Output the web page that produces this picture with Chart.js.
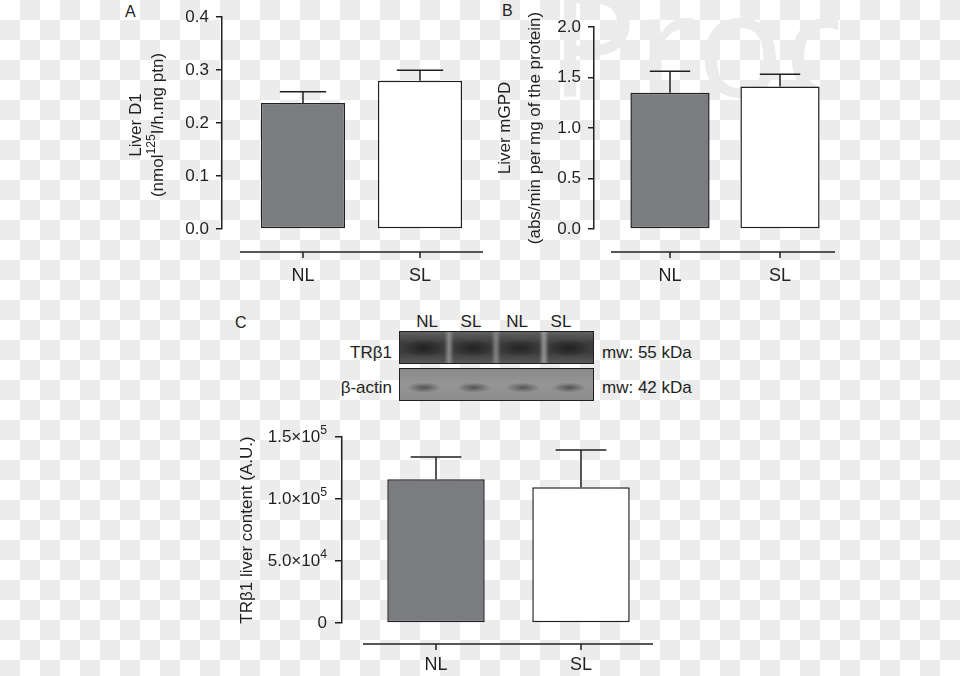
<!DOCTYPE html>
<html>
<head>
<meta charset="utf-8">
<script src="https://cdn.jsdelivr.net/npm/chart.js@4.4.0/dist/chart.umd.min.js"></script>
<style>
  html, body { margin: 0; padding: 0; }
  body {
    width: 960px; height: 676px; position: relative; overflow: hidden;
    background-color: #fff;
    background-image: conic-gradient(#ececec 0 25%, #fff 0 50%, #ececec 0 75%, #fff 0);
    background-size: 40px 40px;
    font-family: "Liberation Sans", Arial, sans-serif;
    color: #231f20;
  }
  canvas { position: absolute; }
  .t { position: absolute; white-space: nowrap; line-height: 1; font-size: 17px; }
  .mid { transform: translate(-50%, -50%); }
  .vmid { transform: translateY(-50%); }
  .panel { font-size: 16px; }
  #mark { position: absolute; left: 490px; top: 0; width: 348px; height: 130px; overflow: hidden; }
  #mark span { position: absolute; left: 60px; top: -32px; font-family: "Open Sans", sans-serif;
    font-size: 145px; line-height: 1; color: #ebebeb; }
  .strip { position: absolute; left: 399px; width: 193px; height: 31px; border: 1.5px solid #231f20; }
  #tr {
    top: 331px;
    background:
      radial-gradient(ellipse 22px 9px at 24px 52%, rgba(20,20,20,.7), rgba(20,20,20,0)),
      radial-gradient(ellipse 22px 9px at 73px 52%, rgba(20,20,20,.65), rgba(20,20,20,0)),
      radial-gradient(ellipse 22px 9px at 120px 52%, rgba(20,20,20,.6), rgba(20,20,20,0)),
      radial-gradient(ellipse 22px 9px at 169px 52%, rgba(20,20,20,.7), rgba(20,20,20,0)),
      linear-gradient(to right, rgba(150,150,150,0) 44px, rgba(150,150,150,.85) 49px, rgba(150,150,150,0) 54px,
        rgba(150,150,150,0) 91px, rgba(150,150,150,.75) 96px, rgba(150,150,150,0) 101px,
        rgba(150,150,150,0) 139px, rgba(160,160,160,.85) 144px, rgba(160,160,160,0) 149px),
      linear-gradient(to bottom, #606060, #3e3e3e 35%, #3c3c3c 65%, #585858);
  }
  #act {
    top: 368px;
    background:
      radial-gradient(ellipse 17px 5px at 24px 60%, rgba(60,60,60,.75), rgba(60,60,60,0)),
      radial-gradient(ellipse 17px 5px at 74px 60%, rgba(60,60,60,.75), rgba(60,60,60,0)),
      radial-gradient(ellipse 17px 5px at 123px 60%, rgba(60,60,60,.7), rgba(60,60,60,0)),
      radial-gradient(ellipse 17px 5px at 169px 60%, rgba(60,60,60,.75), rgba(60,60,60,0)),
      linear-gradient(to bottom, #8a8a8a, #959595 50%, #8c8c8c);
  }
</style>
</head>
<body>
<div id="mark"><span>Proof</span></div>

<div class="t panel" style="left:125px; top:4px;">A</div>
<div class="t panel" style="left:502px; top:3px;">B</div>
<div class="t panel" style="left:235px; top:315px;">C</div>

<div class="t mid" style="left:427px; top:321px;">NL</div>
<div class="t mid" style="left:471px; top:321px;">SL</div>
<div class="t mid" style="left:517px; top:321px;">NL</div>
<div class="t mid" style="left:561px; top:321px;">SL</div>
<div class="strip" id="tr"></div>
<div class="strip" id="act"></div>
<div class="t vmid" style="right:568px; top:352px;">TRβ1</div>
<div class="t vmid" style="right:568px; top:387px;">β-actin</div>
<div class="t vmid" style="left:602px; top:352px;">mw: 55 kDa</div>
<div class="t vmid" style="left:602px; top:387px;">mw: 42 kDa</div>

<canvas id="chartA" width="380" height="290" style="left:110px; top:0px;"></canvas>
<canvas id="chartB" width="360" height="290" style="left:490px; top:0px;"></canvas>
<canvas id="chartC" width="460" height="256" style="left:220px; top:420px;"></canvas>

<script>
const categories = ['NL', 'SL'];
const barColors = ['#7b7c80', '#ffffff'];

// A: liver D1
const d1Mean = [0.238, 0.280];
const d1Sem = [0.021, 0.020];
const d1Ticks = [0, 0.1, 0.2, 0.3, 0.4];

// B: liver mGPD
const gpdMean = [1.35, 1.41];
const gpdSem = [0.213, 0.122];
const gpdTicks = [0, 0.5, 1.0, 1.5, 2.0];

// C: TRb1 content
const trMean = [115900, 109400];
const trSem = [18000, 30100];
const trTicks = [0, 50000, 100000, 150000];
const trTickText = [['0', ''], ['5.0×10', '4'], ['1.0×10', '5'], ['1.5×10', '5']];

const INK = '#231f20';
const FAMILY = '"Liberation Sans", Arial, sans-serif';

function font(size) { return size + 'px ' + FAMILY; }

// draws text pieces, some of them raised as superscript
function richText(ctx, parts, x, y, align, size) {
  const widths = parts.map(p => { ctx.font = font(p[1] ? size * 0.72 : size); return ctx.measureText(p[0]).width; });
  const total = widths.reduce((a, b) => a + b, 0);
  let cx = align === 'right' ? x - total : align === 'center' ? x - total / 2 : x;
  ctx.textAlign = 'left';
  ctx.textBaseline = 'middle';
  parts.forEach((p, i) => {
    ctx.font = font(p[1] ? size * 0.72 : size);
    ctx.fillText(p[0], cx, p[1] ? y - size * 0.36 : y);
    cx += widths[i];
  });
}

function errorBars(mean, sem, cap) {
  return {
    id: 'errorBars',
    afterDatasetsDraw(chart) {
      const ctx = chart.ctx, y = chart.scales.y;
      ctx.save();
      ctx.strokeStyle = INK;
      ctx.lineWidth = 1.5;
      chart.getDatasetMeta(0).data.forEach((bar, i) => {
        const top = y.getPixelForValue(mean[i] + sem[i]);
        const half = bar.width * cap / 2;
        ctx.beginPath();
        ctx.moveTo(bar.x, bar.y);
        ctx.lineTo(bar.x, top);
        ctx.moveTo(bar.x - half, top);
        ctx.lineTo(bar.x + half, top);
        ctx.stroke();
      });
      ctx.restore();
    }
  };
}

// Prism style x axis, detached below the plot
function offsetAxis(gap, indent) {
  return {
    id: 'offsetAxis',
    afterDraw(chart) {
      const a = chart.chartArea, x = chart.scales.x, ctx = chart.ctx;
      const ly = a.bottom + gap;
      ctx.save();
      ctx.strokeStyle = INK;
      ctx.lineWidth = 1.5;
      ctx.beginPath();
      ctx.moveTo(a.left + indent, ly);
      ctx.lineTo(a.right, ly);
      x.ticks.forEach(t => {
        const px = x.getPixelForValue(t.value);
        ctx.moveTo(px, ly);
        ctx.lineTo(px, ly + 6);
      });
      ctx.stroke();
      ctx.restore();
    }
  };
}

function yTitle(lines, cy) {
  return {
    id: 'yTitle',
    afterDraw(chart) {
      const ctx = chart.ctx;
      ctx.save();
      ctx.fillStyle = INK;
      lines.forEach(l => {
        ctx.save();
        ctx.translate(l.x, cy);
        ctx.rotate(-Math.PI / 2);
        richText(ctx, l.parts, 0, 0, 'center', 17);
        ctx.restore();
      });
      ctx.restore();
    }
  };
}

function supTicks(texts, values, gap) {
  return {
    id: 'supTicks',
    afterDraw(chart) {
      const ctx = chart.ctx, y = chart.scales.y;
      ctx.save();
      ctx.fillStyle = INK;
      y.ticks.forEach(t => {
        const s = texts[values.indexOf(t.value)];
        richText(ctx, [[s[0], false], [s[1], true]], chart.chartArea.left - gap, y.getPixelForValue(t.value), 'right', 17);
      });
      ctx.restore();
    }
  };
}

function makeChart(id, c) {
  return new Chart(document.getElementById(id), {
    type: 'bar',
    data: {
      datasets: [{
        data: c.mean.map((m, i) => ({ x: i + 1, y: m })),
        backgroundColor: barColors,
        borderColor: INK,
        borderWidth: 1.5,
        borderSkipped: false,
        barPercentage: c.barPct,
        categoryPercentage: 0.8
      }]
    },
    options: {
      responsive: false,
      animation: false,
      events: [],
      layout: { padding: { top: c.padTop, right: c.padRight, left: 0, bottom: 0 } },
      plugins: { legend: { display: false }, tooltip: { enabled: false } },
      scales: {
        x: {
          type: 'linear',
          offset: false,
          min: c.xMin,
          max: c.xMax,
          afterBuildTicks: s => { s.ticks = categories.map((n, i) => ({ value: i + 1 })); },
          afterFit: s => { s.height = c.xHeight; },
          border: { display: false },
          grid: { display: false, drawTicks: false },
          ticks: {
            padding: c.labelPad,
            color: INK,
            autoSkip: false,
            maxRotation: 0,
            font: { family: FAMILY, size: 18 },
            callback: v => categories[Math.round(v) - 1]
          }
        },
        y: {
          min: 0,
          max: c.ticks[c.ticks.length - 1],
          afterBuildTicks: s => { s.ticks = c.ticks.map(v => ({ value: v })); },
          afterFit: s => { s.width = c.yWidth; },
          border: { display: true, color: INK, width: 1.5 },
          grid: { drawOnChartArea: false, drawTicks: true, tickLength: c.tickLen, color: INK, lineWidth: 1.5 },
          ticks: {
            display: c.showTicks,
            padding: 7,
            color: INK,
            font: { family: FAMILY, size: 17 },
            callback: v => v.toFixed(1)
          }
        }
      }
    },
    plugins: c.plugins
  });
}

makeChart('chartA', {
  mean: d1Mean, ticks: d1Ticks, barPct: 0.9, showTicks: true, tickLen: 6,
  xMin: 0.3077, xMax: 2.5385, yWidth: 112, padTop: 17, padRight: 7, xHeight: 61, labelPad: 36,
  plugins: [
    errorBars(d1Mean, d1Sem, 0.55),
    offsetAxis(23, 18),
    yTitle([
      { x: 26, parts: [['Liver D1', false]] },
      { x: 48, parts: [['(nmol', false], ['125', true], ['I/h.mg ptn)', false]] }
    ], 125)
  ]
});

makeChart('chartB', {
  mean: gpdMean, ticks: gpdTicks, barPct: 0.9, showTicks: true, tickLen: 6,
  xMin: 0.3091, xMax: 2.5, yWidth: 104, padTop: 27, padRight: 15, xHeight: 61, labelPad: 36,
  plugins: [
    errorBars(gpdMean, gpdSem, 0.51),
    offsetAxis(23, 17),
    yTitle([
      { x: 15, parts: [['Liver mGPD', false]] },
      { x: 45, parts: [['(abs/min per mg of the protein)', false]] }
    ], 128)
  ]
});

makeChart('chartC', {
  mean: trMean, ticks: trTicks, barPct: 0.84, showTicks: false, tickLen: 7,
  xMin: 0.3517, xMax: 2.4966, yWidth: 122, padTop: 17, padRight: 27, xHeight: 53, labelPad: 31,
  plugins: [
    errorBars(trMean, trSem, 0.52),
    offsetAxis(21, 21),
    yTitle([{ x: 27, parts: [['TRβ1 liver content (A.U.)', false]] }], 110),
    supTicks(trTickText, trTicks, 15)
  ]
});
</script>
</body>
</html>
